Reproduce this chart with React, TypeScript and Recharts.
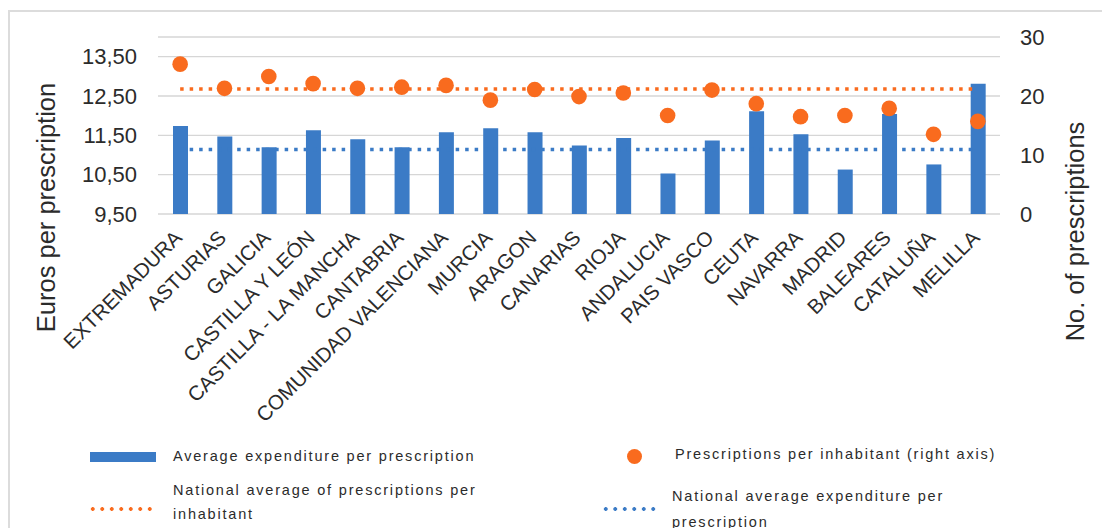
import { ComposedChart, Bar, Line, Scatter, XAxis, YAxis, CartesianGrid } from 'recharts'

const regions = [
    'EXTREMADURA', 'ASTURIAS', 'GALICIA', 'CASTILLA Y LEÓN', 'CASTILLA - LA MANCHA', 'CANTABRIA',
    'COMUNIDAD VALENCIANA', 'MURCIA', 'ARAGON', 'CANARIAS', 'RIOJA', 'ANDALUCIA', 'PAIS VASCO',
    'CEUTA', 'NAVARRA', 'MADRID', 'BALEARES', 'CATALUÑA', 'MELILLA',
]
const avgExpenditure = [
    11.74, 11.47, 11.2, 11.63, 11.4, 11.2, 11.58, 11.68, 11.58, 11.24,
    11.43, 10.53, 11.37, 12.11, 11.53, 10.63, 12.04, 10.76, 12.81,
]
const prescriptionsPerInhabitant = [
    25.4, 21.3, 23.3, 22.1, 21.3, 21.5, 21.8, 19.3, 21.1, 19.9,
    20.5, 16.7, 21.0, 18.7, 16.5, 16.7, 17.9, 13.5, 15.7,
]
const nationalAvgExpenditure = 11.14
const nationalAvgPrescriptions = 21.2

const euroTicks = [9.5, 10.5, 11.5, 12.5, 13.5]
const prescriptionTicks = [0, 5, 10, 15, 20, 25, 30]

const BLUE = '#3b7bc6'
const ORANGE = '#f96b1e'
const TEXT = '#2b2b2b'
const FONT = '"Liberation Sans", Arial, sans-serif'

const data = regions.map((region, i) => ({
    region,
    expenditure: avgExpenditure[i],
    prescriptions: prescriptionsPerInhabitant[i],
    natExpenditure: nationalAvgExpenditure,
    natPrescriptions: nationalAvgPrescriptions,
}))

const euroFormat = (v: number) => v.toFixed(2).replace('.', ',')

function CategoryTick({ x, y, payload }: any) {
    const tx = x + 3
    const ty = y + 17
    return (
        <text
            x={tx}
            y={ty}
            transform={`rotate(-45 ${tx} ${ty})`}
            textAnchor="end"
            fontSize={20.5}
            fontFamily={FONT}
            fill={TEXT}
        >
            {payload.value}
        </text>
    )
}

// rotated axis title, placed relative to the axis viewBox
function AxisTitle({ viewBox, text, offsetX, shiftY }: any) {
    const x = viewBox.x + offsetX
    const y = viewBox.y + viewBox.height / 2 + shiftY
    return (
        <text
            x={x}
            y={y}
            transform={`rotate(-90 ${x} ${y})`}
            textAnchor="middle"
            dominantBaseline="central"
            fontSize={25.5}
            fontFamily={FONT}
            fill={TEXT}
        >
            {text}
        </text>
    )
}

const legendText: React.CSSProperties = {
    position: 'absolute',
    fontFamily: FONT,
    fontSize: 14.5,
    letterSpacing: 1.8,
    color: TEXT,
    lineHeight: '24px',
    whiteSpace: 'nowrap',
}

function dottedSwatch(color: string, left: number, top: number, width: number) {
    return (
        <div
            style={{
                position: 'absolute',
                left,
                top,
                width,
                height: 4,
                backgroundImage: `radial-gradient(circle, ${color} 1.9px, transparent 2.1px)`,
                backgroundSize: '9.5px 4px',
            }}
        />
    )
}

function ChartLegend() {
    return (
        <div style={{ position: 'absolute', left: 0, top: 0, width: 1102, height: 528, pointerEvents: 'none' }}>
            <div style={{ position: 'absolute', left: 90, top: 452, width: 66, height: 10, background: BLUE }} />
            <div style={{ ...legendText, left: 173, top: 444 }}>Average expenditure per prescription</div>

            <div style={{ position: 'absolute', left: 627, top: 449, width: 15, height: 15, borderRadius: '50%', background: ORANGE }} />
            <div style={{ ...legendText, left: 675, top: 442 }}>Prescriptions per inhabitant (right axis)</div>

            {dottedSwatch(ORANGE, 88, 507, 66)}
            <div style={{ ...legendText, left: 173, top: 478 }}>
                National average of prescriptions per
                <br />
                inhabitant
            </div>

            {dottedSwatch(BLUE, 601, 507, 56)}
            <div style={{ ...legendText, left: 672, top: 483, lineHeight: '26px' }}>
                National average expenditure per
                <br />
                prescription
            </div>
        </div>
    )
}

export default function App() {
    return (
        <div style={{ position: 'absolute', left: 0, top: 0, width: 1102, height: 528, overflow: 'hidden', background: '#fff' }}>
            <div
                style={{
                    position: 'absolute',
                    left: 8,
                    top: 10,
                    width: 1100,
                    height: 530,
                    borderTop: '2px solid #dcdcdc',
                    borderLeft: '2px solid #dcdcdc',
                }}
            />
            <ComposedChart
                width={1102}
                height={528}
                data={data}
                margin={{ top: 37, right: 0, bottom: 0, left: 0 }}
                barCategoryGap={0}
            >
                <CartesianGrid yAxisId="euros" vertical={false} stroke="#d6d6d6" strokeWidth={1.4} />
                <XAxis
                    dataKey="region"
                    interval={0}
                    height={314}
                    axisLine={false}
                    tickLine={false}
                    tick={<CategoryTick />}
                />
                <YAxis
                    yAxisId="euros"
                    width={158}
                    domain={[9.5, 14]}
                    ticks={euroTicks}
                    tickFormatter={euroFormat}
                    axisLine={false}
                    tickLine={false}
                    tickSize={0}
                    tickMargin={21}
                    tick={{ fontSize: 22, fontFamily: FONT, fill: TEXT }}
                    label={<AxisTitle text="Euros per prescription" offsetX={46} shiftY={82} />}
                />
                <YAxis
                    yAxisId="count"
                    orientation="right"
                    width={102}
                    domain={[0, 30]}
                    ticks={prescriptionTicks}
                    axisLine={false}
                    tickLine={false}
                    tickSize={0}
                    tickMargin={20}
                    tick={{ fontSize: 22, fontFamily: FONT, fill: TEXT, textAnchor: 'start' }}
                    label={<AxisTitle text="No. of prescriptions" offsetX={75} shiftY={106} />}
                />
                <Bar
                    yAxisId="euros"
                    dataKey="expenditure"
                    fill={BLUE}
                    barSize={15}
                    isAnimationActive={false}
                />
                <Line
                    yAxisId="euros"
                    dataKey="natExpenditure"
                    stroke={BLUE}
                    strokeWidth={3.5}
                    strokeDasharray="3.5 6"
                    dot={false}
                    activeDot={false}
                    isAnimationActive={false}
                />
                <Line
                    yAxisId="count"
                    dataKey="natPrescriptions"
                    stroke={ORANGE}
                    strokeWidth={3.5}
                    strokeDasharray="3.5 6"
                    dot={false}
                    activeDot={false}
                    isAnimationActive={false}
                />
                <Scatter
                    yAxisId="count"
                    dataKey="prescriptions"
                    fill={ORANGE}
                    shape={(p: any) => <circle cx={p.cx} cy={p.cy} r={7.8} fill={ORANGE} />}
                    isAnimationActive={false}
                />
            </ComposedChart>
            <ChartLegend />
        </div>
    )
}
